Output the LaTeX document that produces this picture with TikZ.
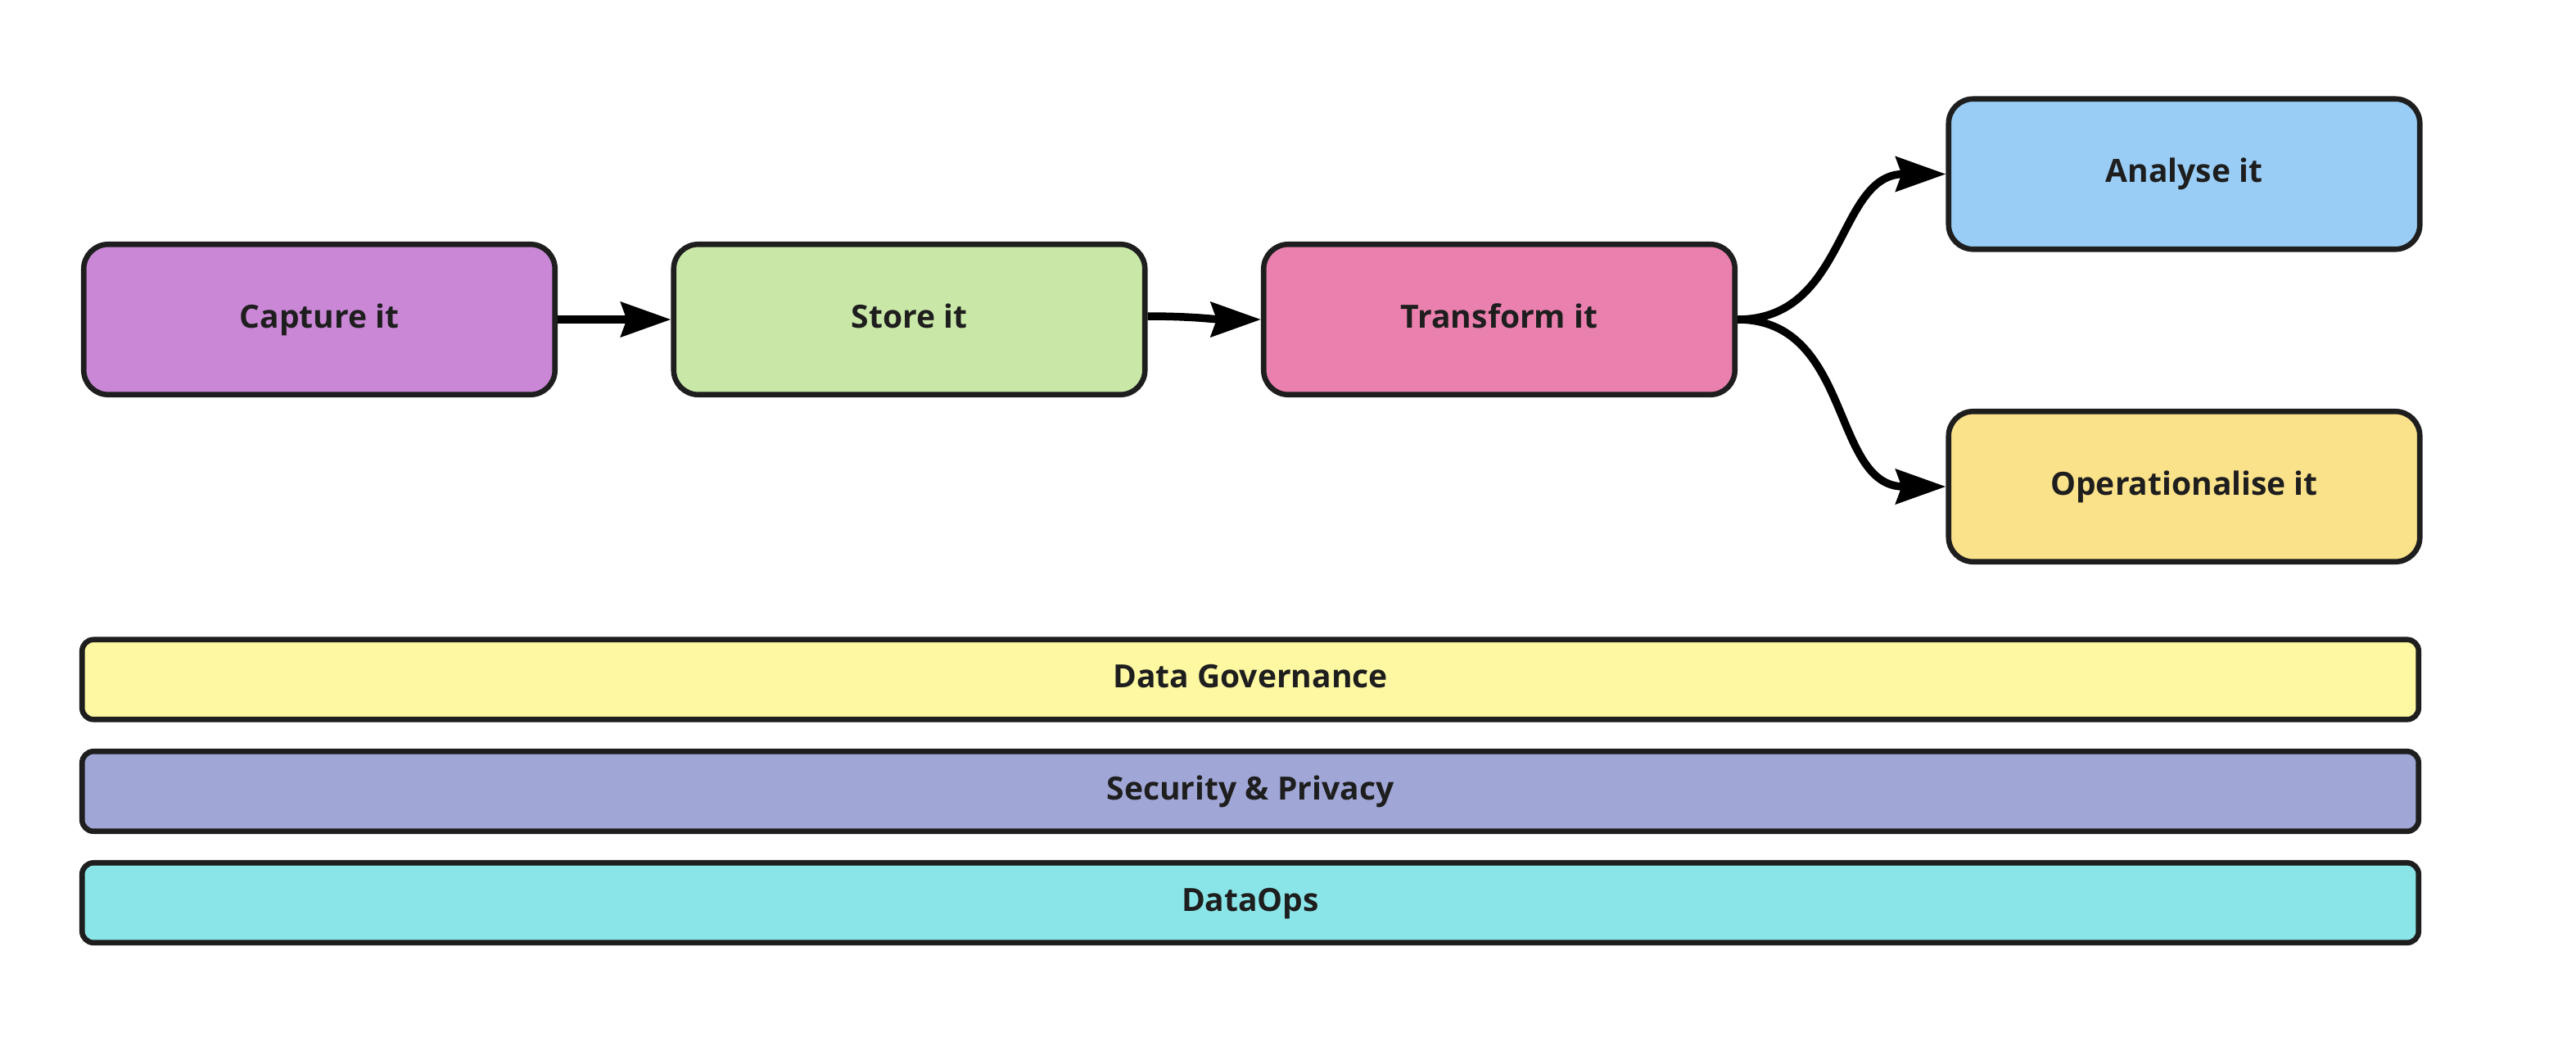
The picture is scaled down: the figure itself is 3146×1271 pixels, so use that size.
\documentclass[tikz,border=0pt]{standalone}
\usepackage{fontspec}
\setmainfont{Open Sans}
\usetikzlibrary{arrows.meta}
\definecolor{edgec}{HTML}{1E1E1E}
\definecolor{cCapture}{HTML}{C987D6}
\definecolor{cStore}{HTML}{C9E8A8}
\definecolor{cTransform}{HTML}{EA80AE}
\definecolor{cAnalyse}{HTML}{99CDF5}
\definecolor{cOper}{HTML}{FAE28A}
\definecolor{cGov}{HTML}{FEF8A2}
\definecolor{cSec}{HTML}{A0A6D6}
\definecolor{cOps}{HTML}{8AE5E8}
\tikzset{
  lbl/.style={font=\fontsize{19.5}{23}\selectfont\bfseries, text=edgec,
    text height=12pt, text depth=2pt},
  stagebox/.style={lbl, draw=edgec, line width=3.3pt, rounded corners=15pt,
    minimum width=287.75pt, minimum height=91.75pt, inner sep=0pt},
  barbox/.style={lbl, draw=edgec, line width=3.3pt, rounded corners=7pt,
    minimum width=1426.75pt, minimum height=48.75pt, inner sep=0pt},
  flow/.style={line width=4.75pt, black, -{Stealth[length=30.5pt, width=21pt, inset=3.5pt]}}
}
\begin{document}
\begin{tikzpicture}[x=0.5pt,y=-0.5pt]
\useasboundingbox (0,0) rectangle (3146,1271);
\node[stagebox, fill=cCapture] (capture) at (390,390) {Capture it};
\node[stagebox, fill=cStore] (store) at (1110.5,390) {Store it};
\node[stagebox, fill=cTransform] (transform) at (1831,390) {Transform it};
\node[stagebox, fill=cAnalyse] (analyse) at (2667.5,212.5) {Analyse it};
\node[stagebox, fill=cOper] (oper) at (2667.5,594) {Operationalise it};
\node[barbox, fill=cGov] (gov) at (1527,829.5) {Data Governance};
\node[barbox, fill=cSec] (sec) at (1527,966) {Security \& Privacy};
\node[barbox, fill=cOps] (ops) at (1527,1102) {DataOps};
\draw[flow] (capture.east) -- (store.west);
\draw[flow] ([yshift=2pt]store.east) to[out=0,in=180] (transform.west);
\draw[flow] (transform.east) to[out=0,in=180,looseness=1.1] (analyse.west);
\draw[flow] (transform.east) to[out=0,in=180,looseness=1.1] (oper.west);
\end{tikzpicture}
\end{document}
